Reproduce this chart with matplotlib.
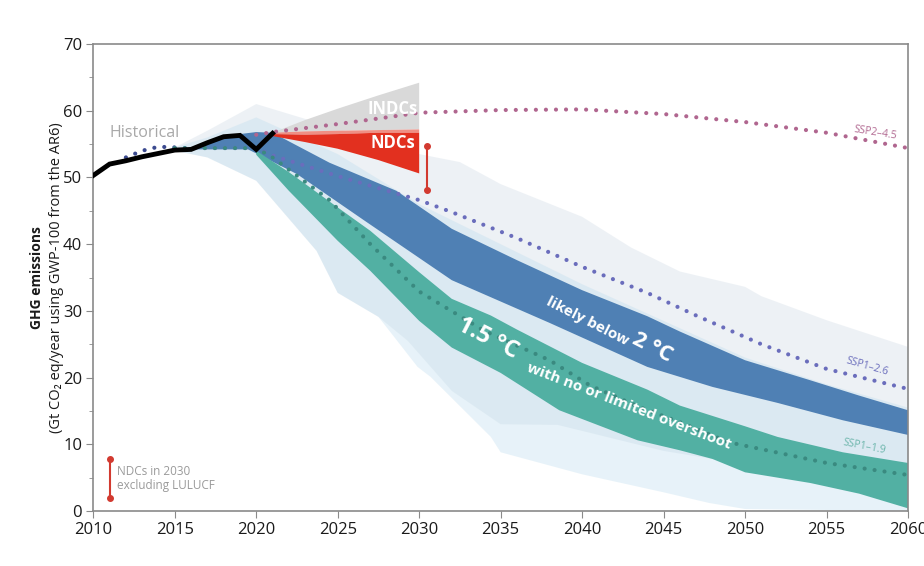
import numpy as np
import matplotlib.pyplot as plt

plt.rcParams['font.family'] = ['Open Sans', 'DejaVu Sans']

# historical GHG emissions (Gt CO2 eq / year)
hist_years = [2010, 2011, 2012, 2013, 2014, 2015, 2016, 2017, 2018, 2019, 2020, 2021]
hist_vals = [50.3, 52.0, 52.5, 53.1, 53.6, 54.1, 54.2, 55.2, 56.1, 56.3, 54.2, 56.6]

# SSP pathways (dotted lines)
ssp_hist_years = [2012, 2013, 2014, 2015]
ssp_hist_vals = [53.0, 54.0, 54.6, 54.5]
ssp245_years = [2020, 2021, 2023, 2025, 2028, 2030, 2035, 2040, 2045, 2050, 2055, 2060]
ssp245_vals = [56.4, 56.8, 57.4, 58.0, 59.0, 59.7, 60.1, 60.2, 59.5, 58.3, 56.7, 54.4]
ssp126_years = [2015, 2020, 2021, 2025, 2030, 2032, 2036, 2040, 2044, 2047, 2051, 2055, 2060]
ssp126_vals = [54.4, 54.4, 53.3, 50.2, 46.6, 44.8, 40.9, 36.6, 32.7, 29.3, 25.0, 21.3, 18.3]
ssp119_years = [2015, 2020, 2021, 2024.5, 2027, 2030, 2034, 2038, 2040.5, 2043.5, 2046, 2049, 2055, 2060]
ssp119_vals = [54.4, 54.4, 53.0, 46.6, 40.0, 32.9, 27.0, 22.6, 18.8, 15.6, 13.3, 10.3, 7.2, 5.4]

# wide ranges (light shading)
rng2_up_years = [2015, 2017, 2020, 2025, 2030, 2032.5, 2035, 2040, 2043, 2046, 2050, 2051, 2055, 2060]
rng2_up_vals = [54.5, 57.0, 61.0, 57.3, 53.5, 52.3, 49.0, 44.1, 39.5, 35.9, 33.6, 32.2, 28.6, 24.6]
rng2_lo_years = [2015, 2017, 2020, 2023.7, 2025, 2027.5, 2029.3, 2032, 2035, 2038.5, 2045, 2060]
rng2_lo_vals = [54.0, 53.0, 49.5, 39.0, 32.7, 29.1, 25.5, 18.0, 13.0, 12.9, 9.0, 3.0]
rng15_up_years = [2015, 2017, 2020, 2025, 2030, 2035, 2040, 2045, 2050, 2055, 2060]
rng15_up_vals = [54.5, 56.0, 59.0, 53.5, 46.0, 40.0, 34.0, 28.5, 23.0, 19.0, 15.5]
rng15_lo_years = [2015, 2017, 2020, 2023.7, 2025, 2027.5, 2029.9, 2030.7, 2034.4, 2035, 2040, 2045, 2047.8, 2050, 2060]
rng15_lo_vals = [54.0, 53.0, 49.5, 39.0, 32.7, 29.1, 21.6, 20.1, 11.1, 8.8, 5.5, 2.8, 1.2, 0.3, 0.0]

# likely below 2 C (interquartile)
b2_up_years = [2016, 2018, 2020, 2021, 2024.5, 2028.6, 2032, 2036, 2040, 2044, 2046, 2050, 2054, 2057, 2060]
b2_up_vals = [54.5, 56.2, 56.8, 56.7, 52.2, 48.0, 42.3, 37.6, 33.1, 29.2, 26.9, 22.6, 19.6, 17.3, 15.1]
b2_lo_years = [2016, 2019.5, 2020, 2022.5, 2026.6, 2032, 2038, 2044, 2048, 2052, 2056, 2060]
b2_lo_vals = [54.2, 54.2, 53.6, 50.5, 43.6, 34.6, 28.2, 21.6, 18.6, 16.2, 13.6, 11.4]

# 1.5 C with no or limited overshoot
b15_up_years = [2020, 2022, 2025, 2027, 2030, 2032, 2034.4, 2036, 2040, 2044, 2046, 2050, 2052, 2056, 2060]
b15_up_vals = [54.0, 50.8, 45.5, 42.0, 35.8, 31.8, 29.3, 27.2, 22.2, 18.2, 15.8, 12.7, 11.1, 8.8, 7.2]
b15_lo_years = [2020, 2022, 2025, 2027, 2030, 2032, 2035, 2038.6, 2043.4, 2046, 2048, 2050, 2054, 2057, 2060]
b15_lo_vals = [53.4, 48.0, 40.5, 36.0, 28.5, 24.5, 20.7, 15.1, 10.6, 9.1, 7.8, 5.8, 4.2, 2.6, 0.4]

# INDCs / NDCs to 2030
ndc_years = [2021, 2023, 2025, 2027.5, 2030]
indc_top = [56.7, 58.6, 60.3, 62.3, 64.2]
ndc_pale_top = [56.7, 56.9, 57.0, 57.1, 57.2]
ndc_top = [56.5, 56.4, 56.5, 56.7, 56.7]
ndc_bottom = [56.2, 55.3, 54.3, 52.6, 50.6]
ndc_excl_lulucf = [48.1, 54.7]
legend_bar = [1.9, 7.8]


def band(ax, xu, yu, xl, yl, **kw):
    xs = np.r_[xu, xl[::-1]]
    ys = np.r_[yu, yl[::-1]]
    ax.fill(xs, ys, lw=0, **kw)


fig = plt.figure(figsize=(9.24, 5.66), dpi=100)
ax = fig.add_axes([93.3 / 924, 1 - 511 / 566, (908 - 93.3) / 924, (511 - 44) / 566])

band(ax, rng2_up_years, rng2_up_vals, rng2_lo_years, rng2_lo_vals, color='#c6d3e0', alpha=0.30, zorder=1)
band(ax, rng15_up_years, rng15_up_vals, rng15_lo_years, rng15_lo_vals, color='#bcdcee', alpha=0.35, zorder=1.1)
band(ax, b2_up_years, b2_up_vals, b2_lo_years, b2_lo_vals, color='#4f80b4', zorder=2)
band(ax, b15_up_years, b15_up_vals, b15_lo_years, b15_lo_vals, color='#52b0a3', zorder=2)
band(ax, ndc_years, indc_top, ndc_years, ndc_pale_top, color='#d9d9d9', zorder=2)
band(ax, ndc_years, ndc_pale_top, ndc_years, ndc_top, color='#ef8f84', zorder=2)
band(ax, ndc_years, ndc_top, ndc_years, ndc_bottom, color='#e2301f', zorder=2)

dots = dict(lw=3, linestyle=(0, (0.01, 2.4)), dash_capstyle='round', zorder=3)
ax.plot(ssp_hist_years, ssp_hist_vals, color='#3b4a8f', **dots)
ax.plot(ssp245_years, ssp245_vals, color='#b0668f', **dots)
ax.plot(ssp126_years, ssp126_vals, color='#6a6dbc', **dots)
ax.plot(ssp119_years, ssp119_vals, color='#3a8a80', **dots)

ax.plot(hist_years, hist_vals, color='black', lw=3.5, zorder=4, solid_joinstyle='miter')

# NDC range bar and its legend
ax.plot([2030.45, 2030.45], ndc_excl_lulucf, color='#d23a30', lw=1.5, marker='o', ms=4, zorder=4)
ax.plot([2011, 2011], legend_bar, color='#d23a30', lw=1.5, marker='o', ms=4, zorder=4)
ax.text(2011.45, 4.9, 'NDCs in 2030\nexcluding LULUCF', color='#9a9a9a', fontsize=8.5,
        va='center', ha='left', linespacing=1.05)

# labels
ax.text(2011, 56.7, 'Historical', color='#a8a8a8', fontsize=11.5, va='center', ha='left')
ax.text(2028.4, 60.2, 'INDCs', color='white', fontsize=12, fontweight='bold', va='center', ha='center', zorder=5)
ax.text(2028.4, 55.2, 'NDCs', color='white', fontsize=12, fontweight='bold', va='center', ha='center', zorder=5)
ax.text(2058.0, 56.6, 'SSP2–4.5', color='#b0668f', fontsize=7.5, rotation=-9, va='center', ha='center', zorder=5)
ax.text(2057.5, 21.6, 'SSP1–2.6', color='#6a6dbc', fontsize=7.5, rotation=-16, va='center', ha='center', zorder=5)
ax.text(2057.3, 9.6, 'SSP1–1.9', color='#6bb5ab', fontsize=7.5, rotation=-11, va='center', ha='center', zorder=5)

ax.text(2040.3, 28.4, 'likely below', color='white', fontsize=11, fontweight='bold',
        rotation=-27, va='center', ha='center', zorder=5)
ax.text(2044.3, 24.5, '2 °C', color='white', fontsize=16, fontweight='bold',
        rotation=-27, va='center', ha='center', zorder=5)
ax.text(2034.2, 25.8, '1.5 °C', color='white', fontsize=17, fontweight='bold',
        rotation=-27, va='center', ha='center', zorder=5)
ax.text(2042.9, 15.7, 'with no or limited overshoot', color='white', fontsize=11, fontweight='bold',
        rotation=-21, va='center', ha='center', zorder=5)

ax.set_xlim(2010, 2060)
ax.set_ylim(0, 70)
ax.set_xticks(range(2010, 2061, 5))
ax.set_yticks(range(0, 71, 10))
ax.set_yticks(range(5, 70, 10), minor=True)
ax.tick_params(which='both', direction='out', color='#8a8a8a', labelsize=12, labelcolor='#1a1a1a')
ax.tick_params(which='major', length=5, pad=3)
ax.tick_params(which='minor', length=3)
for s in ax.spines.values():
    s.set_color('#8a8a8a')
    s.set_linewidth(1.2)

fig.text(37 / 924, 1 - 278 / 566, 'GHG emissions', rotation=90, fontsize=10, fontweight='bold',
         ha='center', va='center', color='#1a1a1a')
fig.text(57 / 924, 1 - 278 / 566, '(Gt CO₂ eq/year using GWP-100 from the AR6)', rotation=90,
         fontsize=10.5, ha='center', va='center', color='#1a1a1a')

fig.savefig('out.png', dpi=100)
